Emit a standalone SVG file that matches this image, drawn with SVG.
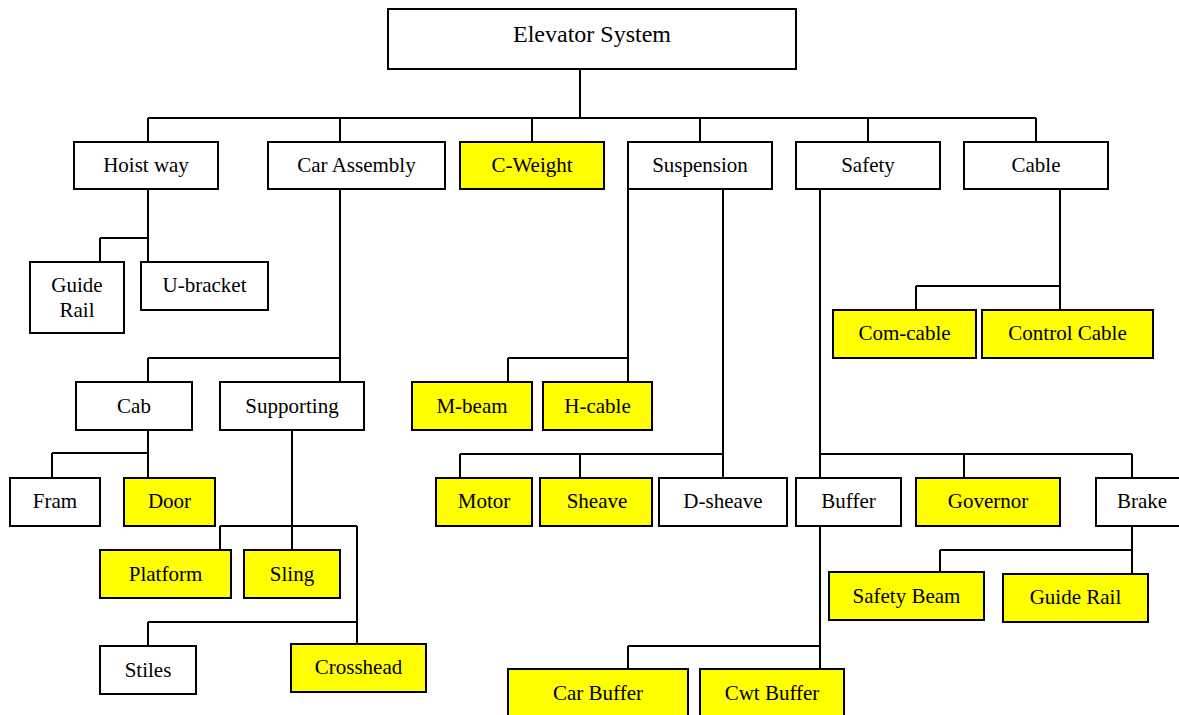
<svg xmlns="http://www.w3.org/2000/svg" width="1179" height="715" viewBox="0 0 1179 715">
  <style>
    .box { fill: #ffffff; stroke: #000000; stroke-width: 2; }
    .hi { fill: #ffff00; stroke: #000000; stroke-width: 2; }
    .lbl { font-family: "Liberation Serif", "Times New Roman", serif; font-size: 21px; fill: #000000; text-anchor: middle; }
    .title { font-size: 24px; }
    .wire { fill: none; stroke: #000000; stroke-width: 2; }
  </style>
  <rect width="1179" height="715" fill="#ffffff"/>

  <!-- connectors -->
  <g id="connectors" class="wire">
    <!-- root to first level -->
    <path d="M580,69 V118 M148,118 H1036 M148,118 V142 M340,118 V142 M532,118 V142 M700,118 V142 M868,118 V142 M1036,118 V142"/>
    <!-- Hoist way -->
    <path d="M148,189 V262 M100,238 H148 M100,238 V262"/>
    <!-- Car Assembly -->
    <path d="M340,189 V382 M148,358 H340 M148,358 V382"/>
    <!-- Cab -->
    <path d="M148,430 V478 M52,453 H148 M52,453 V478"/>
    <!-- Supporting -->
    <path d="M292,430 V550 M220,526 H357 M220,526 V550 M357,526 V644 M148,622 H357 M148,622 V646"/>
    <!-- Suspension -->
    <path d="M628,189 V382 M508,358 H628 M508,358 V382"/>
    <path d="M723,189 V478 M460,454 H723 M460,454 V478 M580,454 V478"/>
    <!-- Safety -->
    <path d="M820,189 V478 M820,454 H1132 M964,454 V478 M1132,454 V478"/>
    <!-- Cable -->
    <path d="M1060,189 V310 M916,286 H1060 M916,286 V310"/>
    <!-- Buffer -->
    <path d="M820,526 V669 M628,646 H820 M628,646 V669"/>
    <!-- Brake -->
    <path d="M1132,526 V574 M940,550 H1132 M940,550 V572"/>
  </g>

  <g id="n-elevator-system"><rect class="box" x="388" y="9" width="408" height="60"/><text class="lbl title" x="592" y="42">Elevator System</text></g>

  <g id="n-hoist-way"><rect class="box" x="74" y="142" width="144" height="47"/><text class="lbl" x="146" y="172">Hoist way</text></g>
  <g id="n-car-assembly"><rect class="box" x="268" y="142" width="177" height="47"/><text class="lbl" x="356.5" y="172">Car Assembly</text></g>
  <g id="n-c-weight"><rect class="hi" x="460" y="142" width="144" height="47"/><text class="lbl" x="532" y="172">C-Weight</text></g>
  <g id="n-suspension"><rect class="box" x="628" y="142" width="144" height="47"/><text class="lbl" x="700" y="172">Suspension</text></g>
  <g id="n-safety"><rect class="box" x="796" y="142" width="144" height="47"/><text class="lbl" x="868" y="172">Safety</text></g>
  <g id="n-cable"><rect class="box" x="964" y="142" width="144" height="47"/><text class="lbl" x="1036" y="172">Cable</text></g>

  <g id="n-guide-rail-hoist"><rect class="box" x="30" y="262" width="94" height="71"/><text class="lbl" x="77" y="292">Guide</text><text class="lbl" x="77" y="317">Rail</text></g>
  <g id="n-u-bracket"><rect class="box" x="141" y="262" width="127" height="48"/><text class="lbl" x="204.5" y="292">U-bracket</text></g>

  <g id="n-cab"><rect class="box" x="76" y="382" width="116" height="48"/><text class="lbl" x="134" y="413">Cab</text></g>
  <g id="n-supporting"><rect class="box" x="220" y="382" width="144" height="48"/><text class="lbl" x="292" y="413">Supporting</text></g>

  <g id="n-fram"><rect class="box" x="10" y="478" width="90" height="48"/><text class="lbl" x="55" y="508">Fram</text></g>
  <g id="n-door"><rect class="hi" x="124" y="478" width="91" height="48"/><text class="lbl" x="169.5" y="508">Door</text></g>

  <g id="n-platform"><rect class="hi" x="100" y="550" width="131" height="48"/><text class="lbl" x="165.5" y="581">Platform</text></g>
  <g id="n-sling"><rect class="hi" x="244" y="550" width="96" height="48"/><text class="lbl" x="292" y="581">Sling</text></g>
  <g id="n-stiles"><rect class="box" x="100" y="646" width="96" height="48"/><text class="lbl" x="148" y="677">Stiles</text></g>
  <g id="n-crosshead"><rect class="hi" x="291" y="644" width="135" height="48"/><text class="lbl" x="358.5" y="674">Crosshead</text></g>

  <g id="n-m-beam"><rect class="hi" x="412" y="382" width="120" height="48"/><text class="lbl" x="472" y="413">M-beam</text></g>
  <g id="n-h-cable"><rect class="hi" x="543" y="382" width="109" height="48"/><text class="lbl" x="597.5" y="413">H-cable</text></g>

  <g id="n-motor"><rect class="hi" x="436" y="478" width="96" height="48"/><text class="lbl" x="484" y="508">Motor</text></g>
  <g id="n-sheave"><rect class="hi" x="540" y="478" width="112" height="48"/><text class="lbl" x="597" y="508">Sheave</text></g>
  <g id="n-d-sheave"><rect class="box" x="659" y="478" width="128" height="48"/><text class="lbl" x="723" y="508">D-sheave</text></g>

  <g id="n-buffer"><rect class="box" x="796" y="478" width="105" height="48"/><text class="lbl" x="848.5" y="508">Buffer</text></g>
  <g id="n-governor"><rect class="hi" x="916" y="478" width="144" height="48"/><text class="lbl" x="988" y="508">Governor</text></g>
  <g id="n-brake"><rect class="box" x="1096" y="478" width="96" height="48"/><text class="lbl" x="1142" y="508">Brake</text></g>

  <g id="n-com-cable"><rect class="hi" x="833" y="310" width="143" height="48"/><text class="lbl" x="904.5" y="340">Com-cable</text></g>
  <g id="n-control-cable"><rect class="hi" x="982" y="310" width="171" height="48"/><text class="lbl" x="1067.5" y="340">Control Cable</text></g>

  <g id="n-safety-beam"><rect class="hi" x="829" y="572" width="155" height="48"/><text class="lbl" x="906.5" y="603">Safety Beam</text></g>
  <g id="n-guide-rail-brake"><rect class="hi" x="1003" y="574" width="145" height="48"/><text class="lbl" x="1075.5" y="604">Guide Rail</text></g>

  <g id="n-car-buffer"><rect class="hi" x="508" y="669" width="180" height="52"/><text class="lbl" x="598" y="700">Car Buffer</text></g>
  <g id="n-cwt-buffer"><rect class="hi" x="700" y="669" width="144" height="52"/><text class="lbl" x="772" y="700">Cwt Buffer</text></g>
</svg>
